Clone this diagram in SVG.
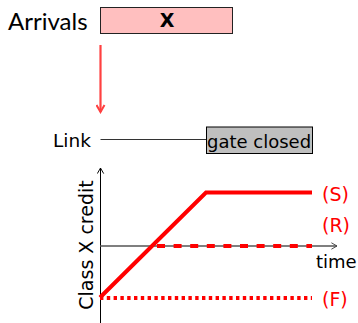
<svg xmlns="http://www.w3.org/2000/svg" width="358" height="323" viewBox="0 0 358 323">
<style>
text{font-family:"DejaVu Sans","Liberation Sans",sans-serif;fill:#000}
.red{fill:#ff0000}
.lab{font-size:18.5px}
</style>
<defs>
<marker id="ahRed" viewBox="0 0 10 10" refX="8" refY="5" markerWidth="10" markerHeight="10" markerUnits="userSpaceOnUse" orient="auto">
<path d="M1,1 L8,5 L1,9" fill="none" stroke="#ff4040" stroke-width="2"/>
</marker>
<marker id="ahBlk" viewBox="0 0 10 10" refX="8" refY="5" markerWidth="8" markerHeight="8" markerUnits="userSpaceOnUse" orient="auto">
<path d="M1,1 L8,5 L1,9" fill="none" stroke="#000" stroke-width="1.2"/>
</marker>
<marker id="ahGry" viewBox="0 0 10 10" refX="8" refY="5" markerWidth="8" markerHeight="8" markerUnits="userSpaceOnUse" orient="auto">
<path d="M1,1 L8,5 L1,9" fill="none" stroke="#444" stroke-width="1.2"/>
</marker>
</defs>
<g id="arrivals">
<text x="8" y="30" style="font-family:Lato,'DejaVu Sans',sans-serif;font-size:24px">Arrivals</text>
<rect x="100.5" y="7.5" width="132" height="26" fill="#ffbfbf" stroke="#222" stroke-width="1"/>
<text x="167" y="27" text-anchor="middle" style="font-size:19px;font-weight:bold">X</text>
</g>
<g id="link">
<text x="53" y="147" class="lab">Link</text>
</g>
<g id="gate">
<rect x="206.5" y="127" width="106" height="26.5" fill="#bfbfbf" stroke="#000" stroke-width="1"/>
<text x="207" y="147.5" class="lab" style="font-size:18px">gate closed</text>
</g>
<g id="connectors">
<line x1="100.5" y1="45" x2="100.5" y2="112" stroke="#ff4040" stroke-width="2.2" marker-end="url(#ahRed)"/>
<line x1="100.5" y1="139.5" x2="206" y2="139.5" stroke="#333" stroke-width="1"/>
</g>
<g id="chart">
<line x1="100.5" y1="323" x2="100.5" y2="168" stroke="#000" stroke-width="1" marker-end="url(#ahBlk)"/>
<line x1="100" y1="246" x2="337" y2="246" stroke="#555" stroke-width="1.3" marker-end="url(#ahGry)"/>
<polyline points="100,297.5 206,192.5 312,192.5" fill="none" stroke="#ff0000" stroke-width="4"/>
<line x1="157" y1="246" x2="312" y2="246" stroke="#ff0000" stroke-width="4" stroke-dasharray="8 8.6"/>
<line x1="100" y1="298" x2="312" y2="298" stroke="#ff0000" stroke-width="4" stroke-dasharray="3.4 3.4"/>
<text x="322" y="201" class="red" style="font-size:19px">(S)</text>
<text x="322" y="232" class="red" style="font-size:19px">(R)</text>
<text x="322" y="306" class="red" style="font-size:19px">(F)</text>
<text x="316" y="268" style="font-size:18px">time</text>
<text transform="translate(93,245) rotate(-90)" text-anchor="middle" style="font-size:19px">Class X credit</text>
</g>
</svg>
